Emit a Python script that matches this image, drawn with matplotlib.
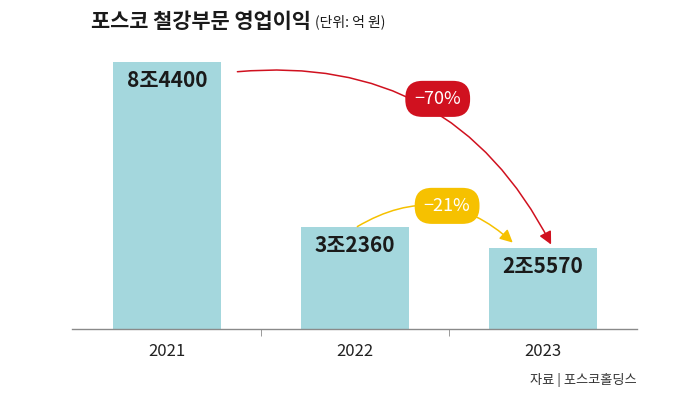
import matplotlib.pyplot as plt

plt.rcParams['font.family'] = ['Noto Sans CJK KR', 'DejaVu Sans']

# Data
years = ["2021", "2022", "2023"]
profit = [84400, 32360, 25570]  # 억 원
labels = ["8조4400", "3조2360", "2조5570"]
changes = ["\u221270%", "\u221221%"]

bar_color = "#a4d7dd"
red = "#d0111f"
yellow = "#f6c100"

fig = plt.figure(figsize=(7, 3.96), dpi=100)
ax = fig.add_axes([72 / 700, 67 / 396, 565 / 700, 289 / 396])

x = list(range(len(years)))
ax.bar(x, profit, width=0.57, color=bar_color, zorder=2)

ax.set_xlim(-0.505, 2.5)
ax.set_ylim(0, 91300)

for s in ["top", "right", "left"]:
    ax.spines[s].set_visible(False)
ax.spines["bottom"].set_color("#8a8a8a")
ax.spines["bottom"].set_linewidth(1)
ax.set_yticks([])
ax.set_xticks(x)
ax.set_xticklabels(years, fontsize=12, color="#222222")
ax.tick_params(axis="x", which="major", length=0, pad=10)
ax.set_xticks([0.5, 1.5], minor=True)
ax.tick_params(axis="x", which="minor", length=5, color="#8a8a8a", direction="out")

for xi, v, lab in zip(x, profit, labels):
    ax.text(xi, v - 2600, lab, ha="center", va="top", fontsize=15,
            fontweight="bold", color="#1a1a1a", zorder=3)

# red arrow 2021 -> 2023
ax.annotate("", xy=(2.05, 25900), xytext=(0.36, 81200),
            arrowprops=dict(arrowstyle="-|>", color=red, lw=1.1,
                            mutation_scale=19,
                            connectionstyle="arc3,rad=-0.34"), zorder=4)
ax.text(1.44, 72700, changes[0], ha="center", va="center", fontsize=13,
        color="white", zorder=5,
        bbox=dict(boxstyle="round,pad=0.5,rounding_size=0.95", fc=red, ec="none"))

# yellow arrow 2022 -> 2023
ax.annotate("", xy=(1.85, 26700), xytext=(1.0, 31900),
            arrowprops=dict(arrowstyle="-|>", color=yellow, lw=1.1,
                            mutation_scale=19,
                            connectionstyle="arc3,rad=-0.38"), zorder=4)
ax.text(1.49, 38900, changes[1], ha="center", va="center", fontsize=13,
        color="white", zorder=5,
        bbox=dict(boxstyle="round,pad=0.5,rounding_size=0.95", fc=yellow, ec="none"))

fig.text(91 / 700, 1 - 22 / 396, "포스코 철강부문 영업이익", fontsize=15,
         fontweight="bold", color="#1a1a1a", va="center", ha="left")
fig.text(315 / 700, 1 - 22 / 396, "(단위: 억 원)", fontsize=10,
         color="#1a1a1a", va="center", ha="left")
fig.text(637 / 700, 1 - 380 / 396, "자료 | 포스코홀딩스", fontsize=9.5,
         color="#333333", va="center", ha="right")

fig.savefig("out.png", dpi=100)
